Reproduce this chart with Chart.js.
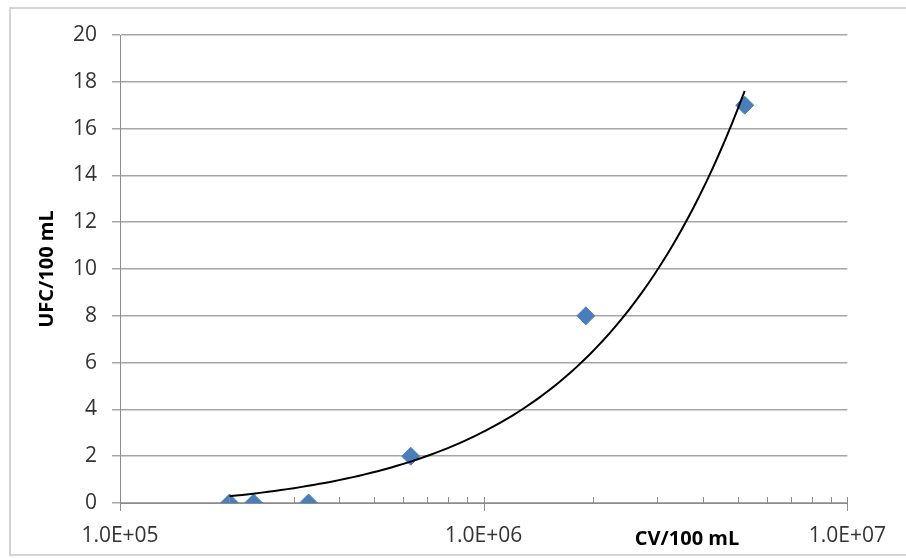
<!DOCTYPE html>
<html>
<head>
<meta charset="utf-8">
<script src="https://cdn.jsdelivr.net/npm/chart.js@4.4.1/dist/chart.umd.min.js"></script>
<style>
  html, body { margin: 0; padding: 0; background: #fff; }
  #wrap { position: relative; width: 906px; height: 558px; }
</style>
</head>
<body>
<div id="wrap"><canvas id="chart" width="906" height="558"></canvas></div>
<script>
// CV/100 mL (x) vs UFC/100 mL (y)
const cvValues = [200000, 233000, 330000, 630000, 1910000, 5220000];
const ufcValues = [0, 0, 0, 2, 8, 17];

const xMajorTicks = [100000, 1000000, 10000000];
const xTickLabels = ['1.0E+05', '1.0E+06', '1.0E+07'];
const yMin = 0, yMax = 20, yStep = 2;

const xTitle = 'CV/100 mL';
const yTitle = 'UFC/100 mL';

const FONT = '"Open Sans", Lato, sans-serif';
const GRID = '#a6a6a6';

// linear least-squares trendline (shown curved on log x axis)
function linearFit(xs, ys) {
    const n = xs.length;
    const mx = xs.reduce((a, b) => a + b, 0) / n;
    const my = ys.reduce((a, b) => a + b, 0) / n;
    let sxy = 0, sxx = 0;
    for (let i = 0; i < n; i++) {
        sxy += (xs[i] - mx) * (ys[i] - my);
        sxx += (xs[i] - mx) * (xs[i] - mx);
    }
    const slope = sxy / sxx;
    return { slope: slope, intercept: my - slope * mx };
}
const fit = linearFit(cvValues, ufcValues);
const trend = [];
const lo = Math.log10(Math.min(...cvValues)), hi = Math.log10(Math.max(...cvValues));
for (let i = 0; i <= 80; i++) {
    const x = Math.pow(10, lo + (hi - lo) * i / 80);
    trend.push({ x: x, y: fit.slope * x + fit.intercept });
}

const points = cvValues.map((v, i) => ({ x: v, y: ufcValues[i] }));

// minor/major ticks on the log axis, axis titles and outer frame
const extras = {
    id: 'extras',
    afterDraw(chart) {
        const ctx = chart.ctx;
        const xs = chart.scales.x;
        const area = chart.chartArea;
        const y0 = area.bottom;
        ctx.save();
        ctx.strokeStyle = '#8c8c8c';
        ctx.lineWidth = 1;
        for (let e = 5; e <= 7; e++) {
            for (let m = 1; m <= 9; m++) {
                const v = m * Math.pow(10, e);
                if (v > 1e7) break;
                const px = Math.round(xs.getPixelForValue(v)) + 0.5;
                ctx.beginPath();
                if (m === 1) { ctx.moveTo(px, y0 - 6); ctx.lineTo(px, y0 + 8); }
                else { ctx.moveTo(px, y0 - 6); ctx.lineTo(px, y0); }
                ctx.stroke();
            }
        }
        ctx.fillStyle = '#000';
        ctx.font = 'bold 20px ' + FONT;
        ctx.textAlign = 'center';
        ctx.textBaseline = 'middle';
        ctx.fillText(xTitle, 687, 539);
        ctx.translate(47, (area.top + area.bottom) / 2);
        ctx.rotate(-Math.PI / 2);
        ctx.fillText(yTitle, 0, 0);
        ctx.setTransform(1, 0, 0, 1, 0, 0);
        ctx.strokeStyle = '#d4d4d4';
        ctx.lineWidth = 2;
        ctx.strokeRect(10, 8, 910, 547);
        ctx.restore();
    }
};

new Chart(document.getElementById('chart'), {
    type: 'scatter',
    data: {
        datasets: [
            {
                type: 'line',
                label: 'trend',
                data: trend,
                borderColor: '#000',
                borderWidth: 2,
                pointRadius: 0,
                tension: 0,
                fill: false
            },
            {
                label: 'data',
                data: points,
                pointStyle: 'rectRot',
                pointRadius: 9,
                pointBackgroundColor: '#4a7ebb',
                pointBorderColor: '#4a7ebb',
                pointBorderWidth: 1
            }
        ]
    },
    options: {
        responsive: false,
        animation: false,
        layout: { padding: { left: 0, right: 57, top: 35, bottom: 0 } },
        plugins: { legend: { display: false }, tooltip: { enabled: false } },
        scales: {
            x: {
                type: 'logarithmic',
                min: 1e5,
                max: 1e7,
                afterBuildTicks: s => { s.ticks = xMajorTicks.map(v => ({ value: v })); },
                afterFit: s => { s.height = 55; },
                grid: { display: false, drawTicks: false },
                border: { display: true, color: '#8c8c8c', width: 1 },
                ticks: {
                    padding: 20,
                    color: '#333',
                    font: { family: FONT, size: 21 },
                    maxRotation: 0,
                    autoSkip: false,
                    callback: (v, i) => xTickLabels[i]
                }
            },
            y: {
                min: yMin,
                max: yMax,
                afterFit: s => { s.width = 120; },
                ticks: {
                    stepSize: yStep,
                    padding: 15,
                    color: '#333',
                    font: { family: FONT, size: 21 }
                },
                grid: { color: GRID, lineWidth: 1.5, tickLength: 8 },
                border: { color: '#8c8c8c', width: 1 }
            }
        }
    },
    plugins: [extras]
});
</script>
</body>
</html>
